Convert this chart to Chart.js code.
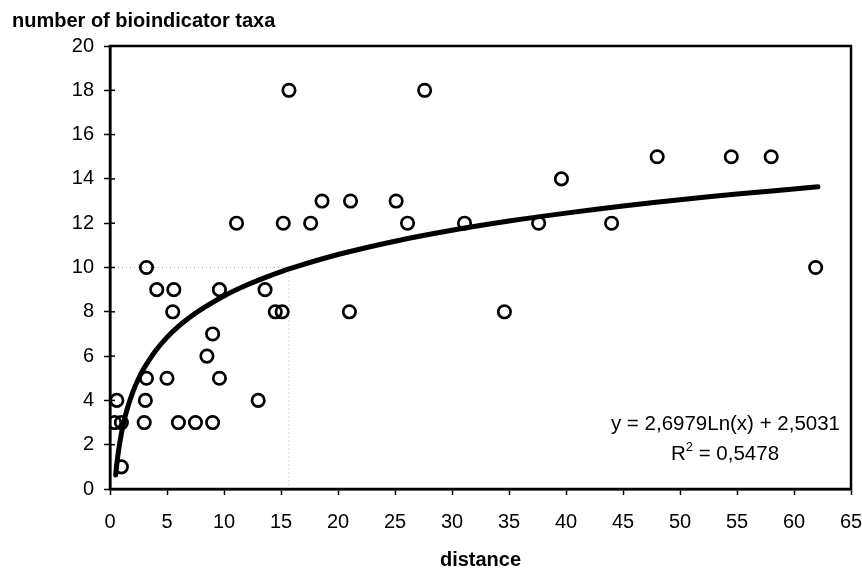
<!DOCTYPE html>
<html>
<head>
<meta charset="utf-8">
<script src="https://cdn.jsdelivr.net/npm/chart.js@4"></script>
<style>
  html, body { margin: 0; padding: 0; background: #fff; }
  #wrap { width: 862px; height: 570px; }
</style>
</head>
<body>
<div id="wrap"><canvas id="taxaChart" width="862" height="570"></canvas></div>
<script>
// distance vs number of taxa
var distance = [0.4, 1.0, 0.6, 1.0, 3.0, 3.1, 3.2, 3.2, 4.1, 5.6, 5.5, 5.0, 6.0, 7.5, 9.0, 8.5, 9.0,
  9.6, 9.6, 11.1, 13.0, 13.6, 14.5, 15.1, 15.2, 15.7, 17.6, 18.6, 21.0, 21.1, 25.1, 26.1, 27.6,
  31.1, 34.6, 37.6, 39.6, 44.0, 48.0, 54.5, 58.0, 61.9];
var taxa = [3, 3, 4, 1, 3, 4, 5, 10, 9, 9, 8, 5, 3, 3, 3, 6, 7,
  5, 9, 12, 4, 9, 8, 8, 12, 18, 12, 13, 8, 13, 13, 12, 18,
  12, 8, 12, 14, 12, 15, 15, 15, 10];

// log trendline as printed on the chart: y = 2,6979Ln(x) + 2,5031
var trendA = 2.6979;
var trendB = 2.5031;
var trendX = [0.5, 0.6, 0.7, 0.8, 1, 1.2, 1.5, 2, 2.5, 3, 4, 5, 6, 7, 8, 10, 12, 14, 16,
  20, 25, 30, 35, 40, 45, 50, 55, 62.1];

// grey dotted guide lines
var guideX = [0, 15.7, 15.7];
var guideY = [10, 10, 0];

var font = '"Liberation Sans", Arial, sans-serif';

var points = distance.map((d, i) => ({x: d, y: taxa[i]}));
var trend = trendX.map(x => ({x: x, y: trendA * Math.log(x) + trendB}));
var guide = guideX.map((x, i) => ({x: x, y: guideY[i]}));

var frame = {
    id: 'frame',
    afterDatasetsDraw(chart) {
        const {ctx, chartArea: a} = chart;
        ctx.save();
        ctx.strokeStyle = '#000';
        ctx.lineWidth = 2.5;
        ctx.strokeRect(a.left, a.top, a.right - a.left, a.bottom - a.top);
        // y ticks cross the axis a little
        ctx.lineWidth = 1.5;
        var ys = chart.scales.y;
        ys.ticks.forEach(t => {
            var py = ys.getPixelForValue(t.value);
            ctx.beginPath();
            ctx.moveTo(a.left, py);
            ctx.lineTo(a.left + 5, py);
            ctx.stroke();
        });
        // equation label
        ctx.fillStyle = '#000';
        ctx.font = '20.5px ' + font;
        ctx.textBaseline = 'alphabetic';
        ctx.textAlign = 'right';
        ctx.fillText('y = 2,6979Ln(x) + 2,5031', a.right - 11, a.bottom - 59);
        var p1 = 'R', p2 = ' = 0,5478';
        var w1 = ctx.measureText(p1).width, w2 = ctx.measureText(p2).width;
        ctx.font = '13px ' + font;
        var ws = ctx.measureText('2').width;
        var cx = a.right - 126;
        var x0 = cx - (w1 + ws + w2) / 2;
        ctx.textAlign = 'left';
        ctx.font = '20.5px ' + font;
        ctx.fillText(p1, x0, a.bottom - 29);
        ctx.font = '13px ' + font;
        ctx.fillText('2', x0 + w1, a.bottom - 38);
        ctx.font = '20.5px ' + font;
        ctx.fillText(p2, x0 + w1 + ws, a.bottom - 29);
        ctx.restore();
    }
};

new Chart(document.getElementById('taxaChart').getContext('2d'), {
    type: 'scatter',
    data: {
        datasets: [
            {
                label: 'taxa',
                data: points,
                pointStyle: 'circle',
                pointRadius: 6.2,
                pointBorderWidth: 2.7,
                pointBorderColor: '#000',
                pointBackgroundColor: 'rgba(255,255,255,0)',
                order: 1
            },
            {
                label: 'trend',
                type: 'line',
                data: trend,
                borderColor: '#000',
                borderWidth: 5,
                borderCapStyle: 'round',
                pointRadius: 0,
                tension: 0.3,
                fill: false,
                order: 0
            },
            {
                label: 'guide',
                type: 'line',
                data: guide,
                borderColor: '#aaa',
                borderWidth: 1,
                borderDash: [1, 3],
                pointRadius: 0,
                tension: 0,
                fill: false,
                order: 2
            }
        ]
    },
    options: {
        responsive: false,
        animation: false,
        layout: { padding: { left: 12, right: 0, top: 0, bottom: 0 } },
        plugins: {
            legend: { display: false },
            tooltip: { enabled: false },
            title: {
                display: true,
                text: 'number of bioindicator taxa',
                align: 'start',
                color: '#000',
                font: { family: font, size: 20, weight: 'bold' },
                padding: { top: 9, bottom: 13 }
            }
        },
        scales: {
            x: {
                type: 'linear',
                min: 0,
                max: 65,
                ticks: { stepSize: 5, color: '#000', font: { family: font, size: 20 }, padding: 15 },
                grid: { display: true, drawOnChartArea: false, tickLength: 6, tickColor: '#000', tickWidth: 1.5 },
                border: { display: true, color: '#000', width: 2.5 },
                title: {
                    display: true,
                    text: 'distance',
                    color: '#000',
                    font: { family: font, size: 20, weight: 'bold', lineHeight: 1 },
                    padding: { top: 4, bottom: 0 }
                },
                afterFit(scale) { scale.height = 81; scale.paddingRight = 11; }
            },
            y: {
                min: 0,
                max: 20,
                ticks: { stepSize: 2, color: '#000', font: { family: font, size: 20 }, padding: 10 },
                grid: { display: true, drawOnChartArea: false, tickLength: 6, tickColor: '#000', tickWidth: 1.5 },
                border: { display: true, color: '#000', width: 2.5 },
                afterFit(scale) { scale.width = 98; }
            }
        }
    },
    plugins: [frame]
});
</script>
</body>
</html>
